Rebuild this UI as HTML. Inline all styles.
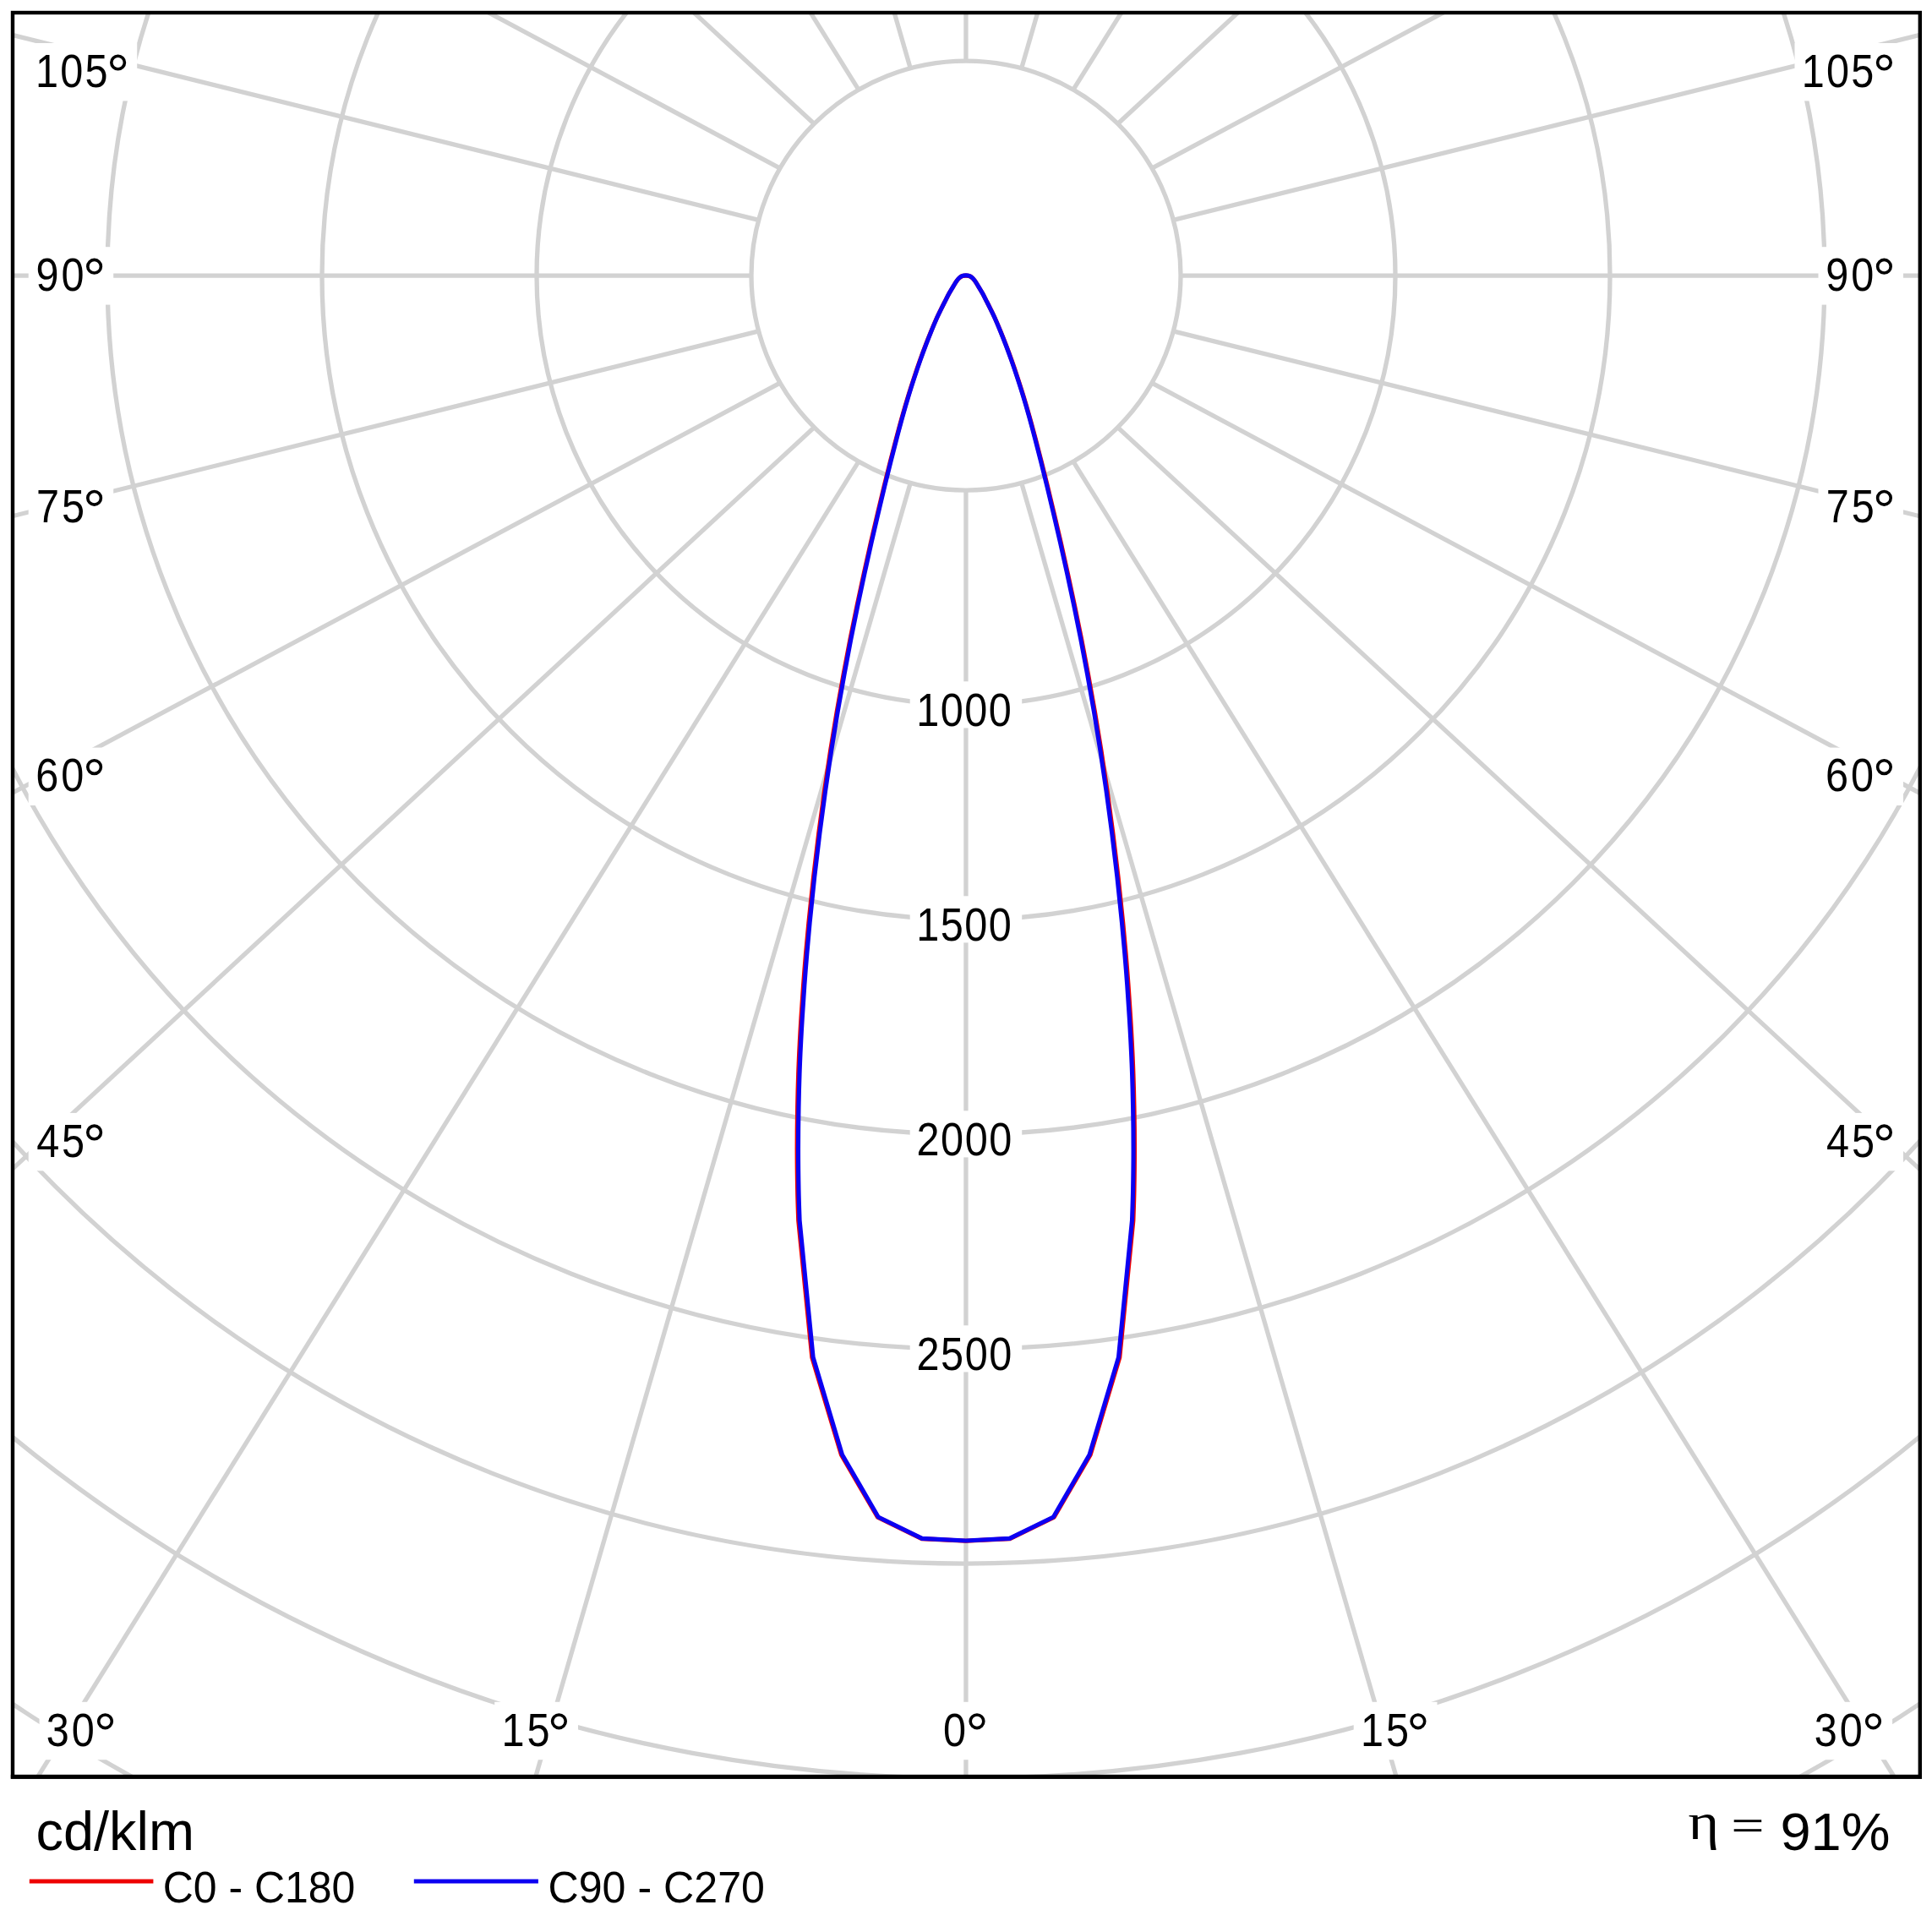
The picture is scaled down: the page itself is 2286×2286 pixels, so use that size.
<!DOCTYPE html>
<html lang="en"><head><meta charset="utf-8"><title>Polar intensity diagram</title>
<style>
html,body{margin:0;padding:0;background:#fff;}
body{width:2286px;height:2286px;overflow:hidden;font-family:"Liberation Sans", sans-serif;}
svg{display:block;}
text{font-family:"Liberation Sans", sans-serif;fill:#000;}
.g{fill:none;stroke:#d2d2d2;stroke-width:5.3;}
.bx{fill:#fff;stroke:none;}
.dg{fill:none;stroke:#000;}
</style></head><body>
<svg width="2286" height="2286" viewBox="0 0 2286 2286">
<rect x="0" y="0" width="2286" height="2286" fill="#fff"/>
<defs><clipPath id="fr"><rect x="15.0" y="15.0" width="2256.8" height="2087.4"/></clipPath></defs>
<g clip-path="url(#fr)">
<g class="g">
<circle cx="1143.0" cy="326.1" r="254.0"/>
<circle cx="1143.0" cy="326.1" r="508.0"/>
<circle cx="1143.0" cy="326.1" r="762.0"/>
<circle cx="1143.0" cy="326.1" r="1016.0"/>
<circle cx="1143.0" cy="326.1" r="1270.0"/>
<circle cx="1143.0" cy="326.1" r="1524.0"/>
<circle cx="1143.0" cy="326.1" r="1778.0"/>
<circle cx="1143.0" cy="326.1" r="2032.0"/>
<line x1="1142.95" y1="580.10" x2="1142.95" y2="3780.10"/>
<line x1="1208.69" y1="571.45" x2="2104.00" y2="3662.41"/>
<line x1="1269.95" y1="546.07" x2="2999.55" y2="3317.35"/>
<line x1="1322.56" y1="505.71" x2="3768.58" y2="2768.45"/>
<line x1="1362.92" y1="453.10" x2="4358.68" y2="2053.10"/>
<line x1="1388.30" y1="391.84" x2="4729.63" y2="1220.06"/>
<line x1="1396.95" y1="326.10" x2="4856.15" y2="326.10"/>
<line x1="1388.30" y1="260.36" x2="4729.63" y2="-567.86"/>
<line x1="1362.92" y1="199.10" x2="4358.68" y2="-1400.90"/>
<line x1="1322.56" y1="146.49" x2="3768.58" y2="-2116.25"/>
<line x1="1269.95" y1="106.13" x2="2999.55" y2="-2665.15"/>
<line x1="1208.69" y1="80.75" x2="2104.00" y2="-3010.21"/>
<line x1="1142.95" y1="72.10" x2="1142.95" y2="-3127.90"/>
<line x1="1077.21" y1="80.75" x2="181.90" y2="-3010.21"/>
<line x1="1015.95" y1="106.13" x2="-713.65" y2="-2665.15"/>
<line x1="963.34" y1="146.49" x2="-1482.68" y2="-2116.25"/>
<line x1="922.98" y1="199.10" x2="-2072.78" y2="-1400.90"/>
<line x1="897.60" y1="260.36" x2="-2443.73" y2="-567.86"/>
<line x1="888.95" y1="326.10" x2="-2570.25" y2="326.10"/>
<line x1="897.60" y1="391.84" x2="-2443.73" y2="1220.06"/>
<line x1="922.98" y1="453.10" x2="-2072.78" y2="2053.10"/>
<line x1="963.34" y1="505.71" x2="-1482.68" y2="2768.45"/>
<line x1="1015.95" y1="546.07" x2="-713.65" y2="3317.35"/>
<line x1="1077.21" y1="571.45" x2="181.90" y2="3662.41"/>
</g>
<rect class="bx" x="33.7" y="51.0" width="128.5" height="68.4"/>
<rect class="bx" x="33.7" y="292.2" width="100.5" height="68.4"/>
<rect class="bx" x="33.7" y="566.3" width="100.5" height="68.4"/>
<rect class="bx" x="33.7" y="884.6" width="100.5" height="68.4"/>
<rect class="bx" x="33.7" y="1316.9" width="100.5" height="68.4"/>
<rect class="bx" x="46.6" y="2013.8" width="100.5" height="68.4"/>
<rect class="bx" x="585.2" y="2013.8" width="98.8" height="68.4"/>
<rect class="bx" x="1107.0" y="2013.8" width="71.6" height="68.4"/>
<rect class="bx" x="2123.5" y="51.0" width="128.5" height="68.4"/>
<rect class="bx" x="2151.5" y="292.2" width="100.5" height="68.4"/>
<rect class="bx" x="2151.5" y="566.3" width="100.5" height="68.4"/>
<rect class="bx" x="2151.5" y="884.6" width="100.5" height="68.4"/>
<rect class="bx" x="2151.5" y="1316.9" width="100.5" height="68.4"/>
<rect class="bx" x="2138.6" y="2013.8" width="100.5" height="68.4"/>
<rect class="bx" x="1601.7" y="2013.8" width="98.8" height="68.4"/>
<rect class="bx" x="1076.7" y="806.3" width="132.5" height="55.1"/>
<rect class="bx" x="1076.7" y="1060.3" width="132.5" height="55.1"/>
<rect class="bx" x="1076.7" y="1314.3" width="132.5" height="55.1"/>
<rect class="bx" x="1076.7" y="1568.3" width="132.5" height="55.1"/>
</g>
<text transform="translate(42.05 102.70) scale(0.884 1)" font-size="55px" textLength="96.72" lengthAdjust="spacing">105</text>
<circle class="dg" cx="139.60" cy="74.00" r="7.80" stroke-width="3.6"/>
<text transform="translate(42.47 343.90) scale(0.884 1)" font-size="55px" textLength="64.48" lengthAdjust="spacing">90</text>
<circle class="dg" cx="111.60" cy="315.20" r="7.80" stroke-width="3.6"/>
<text transform="translate(43.00 618.00) scale(0.884 1)" font-size="55px" textLength="64.48" lengthAdjust="spacing">75</text>
<circle class="dg" cx="111.60" cy="589.30" r="7.80" stroke-width="3.6"/>
<text transform="translate(42.26 936.30) scale(0.884 1)" font-size="55px" textLength="64.48" lengthAdjust="spacing">60</text>
<circle class="dg" cx="111.60" cy="907.60" r="7.80" stroke-width="3.6"/>
<text transform="translate(43.15 1368.60) scale(0.884 1)" font-size="55px" textLength="64.48" lengthAdjust="spacing">45</text>
<circle class="dg" cx="111.60" cy="1339.90" r="7.80" stroke-width="3.6"/>
<text transform="translate(54.76 2065.50) scale(0.884 1)" font-size="55px" textLength="64.48" lengthAdjust="spacing">30</text>
<circle class="dg" cx="124.50" cy="2036.80" r="7.80" stroke-width="3.6"/>
<text transform="translate(593.55 2065.50) scale(0.884 1)" font-size="55px" textLength="64.48" lengthAdjust="spacing">15</text>
<circle class="dg" cx="661.40" cy="2036.80" r="7.80" stroke-width="3.6"/>
<text transform="translate(1116.01 2065.50) scale(0.884 1)" font-size="55px" textLength="32.24" lengthAdjust="spacing">0</text>
<circle class="dg" cx="1156.00" cy="2036.80" r="7.80" stroke-width="3.6"/>
<text transform="translate(2131.85 102.70) scale(0.884 1)" font-size="55px" textLength="96.72" lengthAdjust="spacing">105</text>
<circle class="dg" cx="2229.40" cy="74.00" r="7.80" stroke-width="3.6"/>
<text transform="translate(2160.27 343.90) scale(0.884 1)" font-size="55px" textLength="64.48" lengthAdjust="spacing">90</text>
<circle class="dg" cx="2229.40" cy="315.20" r="7.80" stroke-width="3.6"/>
<text transform="translate(2160.80 618.00) scale(0.884 1)" font-size="55px" textLength="64.48" lengthAdjust="spacing">75</text>
<circle class="dg" cx="2229.40" cy="589.30" r="7.80" stroke-width="3.6"/>
<text transform="translate(2160.06 936.30) scale(0.884 1)" font-size="55px" textLength="64.48" lengthAdjust="spacing">60</text>
<circle class="dg" cx="2229.40" cy="907.60" r="7.80" stroke-width="3.6"/>
<text transform="translate(2160.95 1368.60) scale(0.884 1)" font-size="55px" textLength="64.48" lengthAdjust="spacing">45</text>
<circle class="dg" cx="2229.40" cy="1339.90" r="7.80" stroke-width="3.6"/>
<text transform="translate(2146.76 2065.50) scale(0.884 1)" font-size="55px" textLength="64.48" lengthAdjust="spacing">30</text>
<circle class="dg" cx="2216.50" cy="2036.80" r="7.80" stroke-width="3.6"/>
<text transform="translate(1610.05 2065.50) scale(0.884 1)" font-size="55px" textLength="64.48" lengthAdjust="spacing">15</text>
<circle class="dg" cx="1677.90" cy="2036.80" r="7.80" stroke-width="3.6"/>
<text transform="translate(1084.25 858.70) scale(0.884 1)" font-size="55px" textLength="127.38" lengthAdjust="spacing">1000</text>
<text transform="translate(1084.25 1112.70) scale(0.884 1)" font-size="55px" textLength="127.38" lengthAdjust="spacing">1500</text>
<text transform="translate(1084.59 1366.70) scale(0.884 1)" font-size="55px" textLength="127.38" lengthAdjust="spacing">2000</text>
<text transform="translate(1084.59 1620.70) scale(0.884 1)" font-size="55px" textLength="127.38" lengthAdjust="spacing">2500</text>
<path d="M1142.80 326.10 C1144.11 326.10 1145.45 326.05 1146.73 326.50 C1148.00 326.95 1149.30 327.78 1150.45 328.80 C1151.61 329.82 1152.48 330.93 1153.68 332.60 C1154.87 334.27 1156.11 336.35 1157.60 338.80 C1159.10 341.25 1160.99 344.33 1162.64 347.30 C1164.28 350.27 1165.86 353.45 1167.47 356.60 C1169.08 359.75 1170.54 362.60 1172.31 366.20 C1174.07 369.80 1176.10 373.87 1178.04 378.20 C1179.99 382.53 1181.94 387.20 1183.99 392.20 C1186.03 397.20 1188.17 402.53 1190.33 408.20 C1192.50 413.87 1194.73 419.87 1196.98 426.20 C1199.23 432.53 1201.51 439.20 1203.82 446.20 C1206.14 453.20 1208.52 460.53 1210.87 468.20 C1213.22 475.87 1215.57 483.87 1217.92 492.20 C1220.27 500.53 1222.59 509.20 1224.97 518.20 C1227.35 527.20 1229.77 536.53 1232.22 546.20 C1234.67 555.87 1237.16 565.87 1239.67 576.20 C1242.19 586.53 1244.73 597.20 1247.33 608.20 C1249.93 619.20 1252.61 630.53 1255.28 642.20 C1257.95 653.87 1260.64 665.87 1263.34 678.20 C1266.04 690.53 1268.78 703.20 1271.49 716.20 C1274.21 729.20 1276.97 742.53 1279.65 756.20 C1282.34 769.87 1284.97 783.87 1287.61 798.20 C1290.24 812.53 1292.89 827.20 1295.46 842.20 C1298.03 857.20 1300.56 872.53 1303.01 888.20 C1305.46 903.87 1307.85 919.87 1310.16 936.20 C1312.48 952.53 1314.75 969.20 1316.91 986.20 C1319.08 1003.20 1321.17 1020.53 1323.15 1038.20 C1325.13 1055.87 1327.03 1073.87 1328.79 1092.20 C1330.56 1110.53 1332.25 1129.53 1333.73 1148.20 C1335.20 1166.87 1336.53 1185.87 1337.65 1204.20 C1338.78 1222.53 1339.75 1240.53 1340.47 1258.20 C1341.20 1275.87 1341.65 1293.20 1341.98 1310.20 C1342.32 1327.20 1342.49 1343.87 1342.49 1360.20 C1342.49 1376.53 1342.25 1394.18 1341.98 1408.20 C1341.72 1422.22 1341.06 1438.28 1340.88 1444.30 L1324.76 1606.30 L1290.12 1721.50 L1247.13 1795.20 L1194.96 1820.60 L1142.80 1823.20 M1142.80 326.10 C1141.49 326.10 1140.15 326.05 1138.87 326.50 C1137.60 326.95 1136.30 327.78 1135.15 328.80 C1133.99 329.82 1133.12 330.93 1131.92 332.60 C1130.73 334.27 1129.49 336.35 1128.00 338.80 C1126.50 341.25 1124.61 344.33 1122.96 347.30 C1121.32 350.27 1119.74 353.45 1118.13 356.60 C1116.52 359.75 1115.06 362.60 1113.29 366.20 C1111.53 369.80 1109.50 373.87 1107.56 378.20 C1105.61 382.53 1103.66 387.20 1101.61 392.20 C1099.57 397.20 1097.43 402.53 1095.27 408.20 C1093.10 413.87 1090.87 419.87 1088.62 426.20 C1086.37 432.53 1084.09 439.20 1081.78 446.20 C1079.46 453.20 1077.08 460.53 1074.73 468.20 C1072.38 475.87 1070.03 483.87 1067.68 492.20 C1065.33 500.53 1063.01 509.20 1060.63 518.20 C1058.25 527.20 1055.83 536.53 1053.38 546.20 C1050.93 555.87 1048.44 565.87 1045.93 576.20 C1043.41 586.53 1040.87 597.20 1038.27 608.20 C1035.67 619.20 1032.99 630.53 1030.32 642.20 C1027.65 653.87 1024.96 665.87 1022.26 678.20 C1019.56 690.53 1016.82 703.20 1014.11 716.20 C1011.39 729.20 1008.63 742.53 1005.95 756.20 C1003.26 769.87 1000.63 783.87 997.99 798.20 C995.36 812.53 992.71 827.20 990.14 842.20 C987.57 857.20 985.04 872.53 982.59 888.20 C980.14 903.87 977.75 919.87 975.44 936.20 C973.12 952.53 970.85 969.20 968.69 986.20 C966.52 1003.20 964.43 1020.53 962.45 1038.20 C960.47 1055.87 958.57 1073.87 956.81 1092.20 C955.04 1110.53 953.35 1129.53 951.87 1148.20 C950.40 1166.87 949.07 1185.87 947.95 1204.20 C946.82 1222.53 945.85 1240.53 945.13 1258.20 C944.40 1275.87 943.95 1293.20 943.62 1310.20 C943.28 1327.20 943.11 1343.87 943.11 1360.20 C943.11 1376.53 943.35 1394.18 943.62 1408.20 C943.88 1422.22 944.54 1438.28 944.72 1444.30 L960.84 1606.30 L995.48 1721.50 L1038.47 1795.20 L1090.64 1820.60 L1142.80 1823.20" fill="none" stroke="#ee0000" stroke-width="5.1" stroke-linejoin="round" stroke-linecap="round"/>
<path d="M1142.80 325.90 C1144.10 325.90 1145.43 325.85 1146.70 326.30 C1147.97 326.75 1149.25 327.58 1150.40 328.60 C1151.55 329.62 1152.42 330.73 1153.60 332.40 C1154.78 334.07 1156.02 336.15 1157.50 338.60 C1158.98 341.05 1160.87 344.13 1162.50 347.10 C1164.13 350.07 1165.70 353.25 1167.30 356.40 C1168.90 359.55 1170.35 362.40 1172.10 366.00 C1173.85 369.60 1175.87 373.67 1177.80 378.00 C1179.73 382.33 1181.67 387.00 1183.70 392.00 C1185.73 397.00 1187.85 402.33 1190.00 408.00 C1192.15 413.67 1194.37 419.67 1196.60 426.00 C1198.83 432.33 1201.10 439.00 1203.40 446.00 C1205.70 453.00 1208.07 460.33 1210.40 468.00 C1212.73 475.67 1215.07 483.67 1217.40 492.00 C1219.73 500.33 1222.03 509.00 1224.40 518.00 C1226.77 527.00 1229.17 536.33 1231.60 546.00 C1234.03 555.67 1236.50 565.67 1239.00 576.00 C1241.50 586.33 1244.02 597.00 1246.60 608.00 C1249.18 619.00 1251.85 630.33 1254.50 642.00 C1257.15 653.67 1259.82 665.67 1262.50 678.00 C1265.18 690.33 1267.90 703.00 1270.60 716.00 C1273.30 729.00 1276.03 742.33 1278.70 756.00 C1281.37 769.67 1283.98 783.67 1286.60 798.00 C1289.22 812.33 1291.85 827.00 1294.40 842.00 C1296.95 857.00 1299.47 872.33 1301.90 888.00 C1304.33 903.67 1306.70 919.67 1309.00 936.00 C1311.30 952.33 1313.55 969.00 1315.70 986.00 C1317.85 1003.00 1319.93 1020.33 1321.90 1038.00 C1323.87 1055.67 1325.75 1073.67 1327.50 1092.00 C1329.25 1110.33 1330.93 1129.33 1332.40 1148.00 C1333.87 1166.67 1335.18 1185.67 1336.30 1204.00 C1337.42 1222.33 1338.38 1240.33 1339.10 1258.00 C1339.82 1275.67 1340.27 1293.00 1340.60 1310.00 C1340.93 1327.00 1341.10 1343.67 1341.10 1360.00 C1341.10 1376.33 1340.87 1393.98 1340.60 1408.00 C1340.33 1422.02 1339.68 1438.08 1339.50 1444.10 L1323.50 1606.10 L1289.10 1721.30 L1246.40 1795.00 L1194.60 1820.40 L1142.80 1823.00 M1142.80 325.90 C1141.50 325.90 1140.17 325.85 1138.90 326.30 C1137.63 326.75 1136.35 327.58 1135.20 328.60 C1134.05 329.62 1133.18 330.73 1132.00 332.40 C1130.82 334.07 1129.58 336.15 1128.10 338.60 C1126.62 341.05 1124.73 344.13 1123.10 347.10 C1121.47 350.07 1119.90 353.25 1118.30 356.40 C1116.70 359.55 1115.25 362.40 1113.50 366.00 C1111.75 369.60 1109.73 373.67 1107.80 378.00 C1105.87 382.33 1103.93 387.00 1101.90 392.00 C1099.87 397.00 1097.75 402.33 1095.60 408.00 C1093.45 413.67 1091.23 419.67 1089.00 426.00 C1086.77 432.33 1084.50 439.00 1082.20 446.00 C1079.90 453.00 1077.53 460.33 1075.20 468.00 C1072.87 475.67 1070.53 483.67 1068.20 492.00 C1065.87 500.33 1063.57 509.00 1061.20 518.00 C1058.83 527.00 1056.43 536.33 1054.00 546.00 C1051.57 555.67 1049.10 565.67 1046.60 576.00 C1044.10 586.33 1041.58 597.00 1039.00 608.00 C1036.42 619.00 1033.75 630.33 1031.10 642.00 C1028.45 653.67 1025.78 665.67 1023.10 678.00 C1020.42 690.33 1017.70 703.00 1015.00 716.00 C1012.30 729.00 1009.57 742.33 1006.90 756.00 C1004.23 769.67 1001.62 783.67 999.00 798.00 C996.38 812.33 993.75 827.00 991.20 842.00 C988.65 857.00 986.13 872.33 983.70 888.00 C981.27 903.67 978.90 919.67 976.60 936.00 C974.30 952.33 972.05 969.00 969.90 986.00 C967.75 1003.00 965.67 1020.33 963.70 1038.00 C961.73 1055.67 959.85 1073.67 958.10 1092.00 C956.35 1110.33 954.67 1129.33 953.20 1148.00 C951.73 1166.67 950.42 1185.67 949.30 1204.00 C948.18 1222.33 947.22 1240.33 946.50 1258.00 C945.78 1275.67 945.33 1293.00 945.00 1310.00 C944.67 1327.00 944.50 1343.67 944.50 1360.00 C944.50 1376.33 944.73 1393.98 945.00 1408.00 C945.27 1422.02 945.92 1438.08 946.10 1444.10 L962.10 1606.10 L996.50 1721.30 L1039.20 1795.00 L1091.00 1820.40 L1142.80 1823.00" fill="none" stroke="#0c00f2" stroke-width="5.1" stroke-linejoin="round" stroke-linecap="round"/>
<rect x="15.0" y="15.0" width="2256.8" height="2087.4" fill="none" stroke="#000" stroke-width="4.4"/>
<rect x="12.8" y="2099.8" width="2261.2" height="5.0" fill="#000"/>
<text x="42.5" y="2189" font-size="64px" textLength="187.5" lengthAdjust="spacingAndGlyphs">cd/klm</text>
<line x1="34.8" y1="2226" x2="181.4" y2="2226" stroke="#ee0000" stroke-width="5.2"/>
<text x="192.8" y="2251.2" font-size="51.5px" textLength="227.5" lengthAdjust="spacingAndGlyphs">C0 - C180</text>
<line x1="489.8" y1="2226" x2="636.9" y2="2226" stroke="#0c00f2" stroke-width="5.2"/>
<text x="648.5" y="2251.2" font-size="51.5px" textLength="256.5" lengthAdjust="spacingAndGlyphs">C90 - C270</text>
<text transform="translate(1997.6 2176) scale(1.15 1)" font-size="61px" style="font-family:'Liberation Serif', serif">&#951;</text>
<rect x="2051.7" y="2153.2" width="32.5" height="2.9" fill="#000"/>
<rect x="2051.7" y="2164.2" width="32.5" height="2.9" fill="#000"/>
<text x="2106.5" y="2189" font-size="62.5px" textLength="130" lengthAdjust="spacingAndGlyphs">91%</text>
</svg>
</body></html>
